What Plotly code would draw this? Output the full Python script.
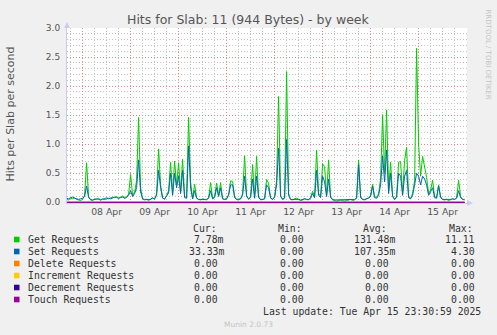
import pandas as pd
import plotly.graph_objects as go

# ---------------- data ----------------
start_time = "2025-04-07 16:00"
n_points = 200  # hourly samples

get_requests = [
    0.05, 0.04, 0.07, 0.06, 0.08, 0.05, 0.04, 0.03, 0.05, 0.12,
    0.68, 0.10, 0.04, 0.03, 0.06, 0.05, 0.07, 0.04, 0.05, 0.06,
    0.08, 0.06, 0.07, 0.09, 0.08, 0.10, 0.07, 0.09, 0.11, 0.08,
    0.10, 0.14, 0.48, 0.12, 0.18, 0.37, 1.46, 0.25, 0.06, 0.04,
    0.05, 0.03, 0.06, 0.08, 0.05, 0.15, 0.92, 0.30, 0.08, 0.05,
    0.12, 0.20, 0.69, 0.15, 0.71, 0.30, 0.68, 0.18, 0.74, 0.10,
    0.08, 1.46, 0.35, 0.06, 0.31, 0.08, 0.05, 0.04, 0.06, 0.05,
    0.04, 0.08, 0.34, 0.07, 0.10, 0.33, 0.12, 0.34, 0.06, 0.05,
    0.06, 0.14, 0.37, 0.36, 0.10, 0.05, 0.04, 0.06, 0.15, 0.80,
    0.12, 0.05, 0.10, 0.65, 0.08, 0.79, 0.10, 0.04, 0.05, 0.06,
    0.39, 0.33, 0.08, 0.05, 0.10, 0.37, 1.82, 0.12, 0.05, 0.08,
    2.25, 0.15, 0.05, 0.04, 0.06, 0.07, 0.05, 0.03, 0.04, 0.06,
    0.05, 0.04, 0.08, 0.19, 0.10, 0.90, 0.15, 0.10, 0.66, 0.61,
    0.12, 0.73, 0.10, 0.04, 0.03, 0.02, 0.03, 0.04, 0.03, 0.02,
    0.03, 0.04, 0.05, 0.03, 0.04, 0.08, 0.73, 0.10, 0.05, 0.04,
    0.06, 0.08, 0.12, 0.31, 0.10, 0.08, 0.15, 0.40, 1.51, 0.50,
    1.59, 0.20, 0.69, 0.12, 0.05, 0.10, 0.69, 0.70, 0.15, 0.72,
    0.95, 0.10, 0.06, 0.15, 0.37, 2.65, 1.00, 0.45, 0.79, 0.63,
    0.43, 0.15, 0.21, 0.38, 0.10, 0.08, 0.30, 0.10, 0.05, 0.04,
    0.05, 0.03, 0.04, 0.06, 0.05, 0.08, 0.38, 0.10, 0.05, 0.04,
]

set_requests = [
    0.07, 0.06, 0.08, 0.09, 0.07, 0.06, 0.05, 0.06, 0.07, 0.10,
    0.28, 0.08, 0.05, 0.04, 0.05, 0.06, 0.05, 0.04, 0.06, 0.05,
    0.06, 0.07, 0.06, 0.08, 0.09, 0.08, 0.07, 0.08, 0.09, 0.07,
    0.08, 0.12, 0.20, 0.10, 0.15, 0.25, 0.73, 0.18, 0.06, 0.05,
    0.05, 0.04, 0.05, 0.07, 0.06, 0.12, 0.55, 0.25, 0.07, 0.06,
    0.10, 0.16, 0.50, 0.12, 0.50, 0.25, 0.45, 0.15, 0.55, 0.08,
    0.07, 0.97, 0.25, 0.06, 0.20, 0.07, 0.05, 0.05, 0.06, 0.05,
    0.05, 0.07, 0.20, 0.06, 0.08, 0.25, 0.10, 0.25, 0.06, 0.05,
    0.06, 0.12, 0.30, 0.30, 0.08, 0.05, 0.05, 0.06, 0.12, 0.45,
    0.10, 0.06, 0.08, 0.40, 0.07, 0.45, 0.08, 0.05, 0.05, 0.06,
    0.30, 0.25, 0.07, 0.05, 0.08, 0.30, 0.93, 0.10, 0.05, 0.07,
    1.08, 0.12, 0.05, 0.05, 0.06, 0.06, 0.05, 0.04, 0.05, 0.06,
    0.05, 0.05, 0.07, 0.15, 0.08, 0.55, 0.12, 0.08, 0.45, 0.35,
    0.10, 0.40, 0.08, 0.05, 0.04, 0.04, 0.04, 0.05, 0.04, 0.04,
    0.04, 0.05, 0.05, 0.04, 0.05, 0.07, 0.65, 0.08, 0.05, 0.05,
    0.06, 0.07, 0.10, 0.28, 0.08, 0.07, 0.12, 0.30, 0.80, 0.35,
    0.90, 0.15, 0.50, 0.10, 0.05, 0.08, 0.50, 0.45, 0.12, 0.45,
    0.55, 0.08, 0.06, 0.12, 0.30, 0.50, 0.45, 0.30, 0.45, 0.40,
    0.30, 0.12, 0.18, 0.25, 0.08, 0.07, 0.28, 0.08, 0.05, 0.05,
    0.05, 0.04, 0.05, 0.06, 0.05, 0.07, 0.20, 0.08, 0.05, 0.05,
]

delete_requests = [0.0] * n_points
increment_requests = [0.0] * n_points
decrement_requests = [0.0] * n_points
touch_requests = [0.0] * n_points

series_names = ["Get Requests", "Set Requests", "Delete Requests",
                "Increment Requests", "Decrement Requests", "Touch Requests"]
series_colors = ["#00CC00", "#0066B3", "#FF8000", "#FFCC00", "#330099", "#990099"]
cur_vals = ["7.78m", "33.33m", "0.00", "0.00", "0.00", "0.00"]
min_vals = ["0.00", "0.00", "0.00", "0.00", "0.00", "0.00"]
avg_vals = ["131.48m", "107.35m", "0.00", "0.00", "0.00", "0.00"]
max_vals = ["11.11", "4.30", "0.00", "0.00", "0.00", "0.00"]

x_range = ["2025-04-07 16:12", "2025-04-16 00:12"]
y_ticks = [0.0, 0.5, 1.0, 1.5, 2.0, 2.5, 3.0]

title_text = "Hits for Slab: 11 (944 Bytes) - by week"
y_title = "Hits per Slab per second"
last_update = "Last update: Tue Apr 15 23:30:59 2025"
munin_version = "Munin 2.0.73"
rrd_credit = "RRDTOOL / TOBI OETIKER"

# ---------------- figure ----------------
W, H = 497, 335
L, R, T, B = 67, 30, 28, 132
PW, PH = W - L - R, H - T - B


def px(x):
    return (x - L) / PW


def py(y):
    return (H - B - y) / PH


times = pd.date_range(start_time, periods=n_points, freq="h")
all_series = [get_requests, set_requests, delete_requests,
              increment_requests, decrement_requests, touch_requests]

fig = go.Figure()
for name, color, vals in zip(series_names, series_colors, all_series):
    fig.add_trace(go.Scatter(x=times, y=vals, name=name, mode="lines",
                             line=dict(color=color, width=1)))

major_grid = "#E08A8A"
minor_grid = "#C4C4C4"
axis_color = "#C9CDEE"
dash = "1px,2px"

fig.update_layout(
    width=W, height=H,
    margin=dict(l=L, r=R, t=T, b=B, pad=0),
    paper_bgcolor="#F0F0F0",
    plot_bgcolor="#FFFFFF",
    showlegend=False,
    font=dict(family="DejaVu Sans", color="#555555"),
)

fig.update_xaxes(
    type="date", range=x_range,
    dtick=86400000, tick0="2025-04-08",
    tickformat="%d %b", ticklabelmode="period",
    tickfont=dict(size=9.3, color="#555555"),
    showgrid=True, gridcolor=major_grid, griddash=dash, gridwidth=1,
    ticks="", showline=True, linecolor=axis_color, linewidth=1,
    minor=dict(dtick=21600000, showgrid=True, gridcolor=minor_grid,
               griddash=dash, ticks=""),
    zeroline=False, fixedrange=True,
)

fig.update_yaxes(
    range=[-0.012, 3.0], tickvals=y_ticks, tickformat=".1f",
    tickfont=dict(size=9, color="#555555"),
    showgrid=True, gridcolor=major_grid, griddash=dash, gridwidth=1,
    ticks="outside", ticklen=4, tickcolor="rgba(0,0,0,0)",
    showline=True, linecolor=axis_color, linewidth=1,
    minor=dict(dtick=0.1, showgrid=True, gridcolor=minor_grid,
               griddash=dash, ticks=""),
    zeroline=False, fixedrange=True,
)

annotations = []
shapes = []

# title
annotations.append(dict(text=title_text, x=px(248.5), y=py(19.5), xref="paper", yref="paper",
                        showarrow=False, xanchor="center", yanchor="middle",
                        font=dict(size=12.5, color="#555555", family="DejaVu Sans")))
# y axis title
annotations.append(dict(text=y_title, x=px(10), y=py(114.5), xref="paper", yref="paper",
                        showarrow=False, textangle=-90, xanchor="center", yanchor="middle",
                        font=dict(size=11, color="#555555", family="DejaVu Sans")))
# rrdtool credit
annotations.append(dict(text=rrd_credit, x=px(487.5), y=py(54), xref="paper", yref="paper",
                        showarrow=False, textangle=90, xanchor="center", yanchor="middle",
                        font=dict(size=7, color="#C4C4C4", family="DejaVu Sans")))

mono = "DejaVu Sans Mono"
fs = 9.8
text_color = "#333333"
char_w = 5.96

# header
for label, xl in zip(["Cur:", "Min:", "Avg:", "Max:"], [190.7, 276.0, 361.0, 446.7]):
    annotations.append(dict(text=label, x=px(xl), y=py(228), xref="paper", yref="paper",
                            showarrow=False, xanchor="left", yanchor="middle",
                            font=dict(size=fs, color=text_color, family=mono)))

col_num_end = [220.0, 305.7, 390.7, 476.7]
row_y0, row_dy = 239.5, 12.0
for i, (name, color) in enumerate(zip(series_names, series_colors)):
    yy = row_y0 + i * row_dy
    shapes.append(dict(type="rect", xref="paper", yref="paper",
                       x0=px(14), x1=px(19.5), y0=py(yy + 2.8), y1=py(yy - 2.8),
                       fillcolor=color, line=dict(width=0)))
    annotations.append(dict(text=name, x=px(26), y=py(yy), xref="paper", yref="paper",
                            showarrow=False, xanchor="left", yanchor="middle",
                            font=dict(size=fs, color=text_color, family=mono)))
    for vals, cend in zip([cur_vals, min_vals, avg_vals, max_vals], col_num_end):
        v = vals[i]
        xe = cend + (char_w if not v[-1].isdigit() else 0)
        annotations.append(dict(text=v, x=px(xe), y=py(yy), xref="paper", yref="paper",
                                showarrow=False, xanchor="right", yanchor="middle",
                                font=dict(size=fs, color=text_color, family=mono)))

annotations.append(dict(text=last_update, x=px(482.5), y=py(311.5), xref="paper", yref="paper",
                        showarrow=False, xanchor="right", yanchor="middle",
                        font=dict(size=fs, color=text_color, family=mono)))
annotations.append(dict(text=munin_version, x=px(248), y=py(324), xref="paper", yref="paper",
                        showarrow=False, xanchor="center", yanchor="middle",
                        font=dict(size=7.5, color="#C4C4C4", family="DejaVu Sans")))

# axis arrows
arrow_col = "#C9CDF5"
shapes.append(dict(type="path", xref="paper", yref="paper",
                   path=f"M {px(64)},{py(28)} L {px(70)},{py(28)} L {px(67)},{py(22)} Z",
                   fillcolor=arrow_col, line=dict(width=0)))
shapes.append(dict(type="path", xref="paper", yref="paper",
                   path=f"M {px(467)},{py(200)} L {px(467)},{py(206)} L {px(473)},{py(203)} Z",
                   fillcolor=arrow_col, line=dict(width=0)))

fig.update_layout(annotations=annotations, shapes=shapes)

fig.write_html("out.html")
